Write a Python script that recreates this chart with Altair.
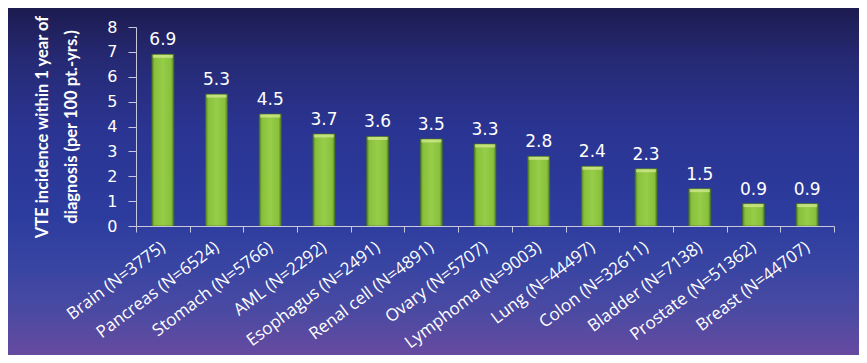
import altair as alt
import pandas as pd

cancers = ["Brain (N=3775)", "Pancreas (N=6524)", "Stomach (N=5766)", "AML (N=2292)",
           "Esophagus (N=2491)", "Renal cell (N=4891)", "Ovary (N=5707)",
           "Lymphoma (N=9003)", "Lung (N=44497)", "Colon (N=32611)",
           "Bladder (N=7138)", "Prostate (N=51362)", "Breast (N=44707)"]
incidence = [6.9, 5.3, 4.5, 3.7, 3.6, 3.5, 3.3, 2.8, 2.4, 2.3, 1.5, 0.9, 0.9]
y_ticks = [0, 1, 2, 3, 4, 5, 6, 7, 8]
y_title = ["VTE incidence within 1 year of", "diagnosis (per 100 pt.-yrs.)"]

df = pd.DataFrame({"cancer": cancers, "vte": incidence})

W, H = 698, 199
PL, PT, PR, PB = 128, 19, 25, 129

bg_grad = alt.LinearGradient(
    gradient="linear", x1=0, x2=0, y1=0, y2=1,
    stops=[
        alt.GradientStop(offset=0.0, color="#1c1b50"),
        alt.GradientStop(offset=0.15, color="#262a74"),
        alt.GradientStop(offset=0.35, color="#2a3492"),
        alt.GradientStop(offset=0.6, color="#2c3c9e"),
        alt.GradientStop(offset=0.75, color="#3945a2"),
        alt.GradientStop(offset=0.88, color="#4c4aa2"),
        alt.GradientStop(offset=1.0, color="#664aa0"),
    ],
)

bar_grad = alt.LinearGradient(
    gradient="linear", x1=0, x2=1, y1=0, y2=0,
    stops=[
        alt.GradientStop(offset=0.0, color="#4f7a22"),
        alt.GradientStop(offset=0.12, color="#88c03c"),
        alt.GradientStop(offset=0.5, color="#97cd48"),
        alt.GradientStop(offset=0.88, color="#88c03c"),
        alt.GradientStop(offset=1.0, color="#4f7a22"),
    ],
)

bg = alt.Chart(alt.Data(values=[{"bg": 1}])).mark_rect(color=bg_grad).encode(
    x=alt.value(-PL), x2=alt.value(W + PR), y=alt.value(-PT), y2=alt.value(H + PB)
)

x_enc = alt.X(
    "cancer:N", sort=cancers,
    scale=alt.Scale(paddingInner=0, paddingOuter=0),
    axis=alt.Axis(
        title=None, labelAngle=323, labelAlign="right", labelBaseline="middle",
        labelFont="Open Sans", labelFontSize=17, labelColor="white",
        labelPadding=13, tickSize=6, tickBand="extent", labelOverlap=False,
        domainColor="#c8c8dc", tickColor="#c8c8dc", zindex=1, labelLimit=300,
    ),
)
y_enc = alt.Y(
    "vte:Q",
    scale=alt.Scale(domain=[0, 8], nice=False),
    axis=alt.Axis(
        title=y_title, values=y_ticks, grid=False, labelOverlap=False,
        titleFont="Lato", titleFontSize=16.5, titleFontWeight="bold", titleColor="white",
        titleLineHeight=29, titlePadding=27,
        labelFont="DejaVu Sans", labelFontSize=16, labelColor="white",
        labelPadding=11, tickSize=8,
        domainColor="#c8c8dc", tickColor="#c8c8dc", zindex=1,
    ),
)

base = alt.Chart(df)
bars = base.mark_bar(size=22, color=bar_grad, stroke="#4a7020", strokeWidth=0.6).encode(
    x=x_enc, y=y_enc
)
highlight = base.mark_tick(color="#d8eb94", thickness=3, size=20, orient="horizontal",
                           yOffset=2).encode(x=x_enc, y=y_enc)
labels = base.mark_text(dy=-9, baseline="alphabetic", font="DejaVu Sans", fontSize=17,
                        color="white").encode(
    x=x_enc, y=y_enc, text=alt.Text("vte:Q", format=".1f")
)

chart = alt.layer(bg, bars, highlight, labels).properties(
    width=W, height=H,
    autosize=alt.AutoSizeParams(type="none"),
    padding={"left": PL, "top": PT, "right": PR, "bottom": PB},
    background="white",
).configure_view(stroke=None)

chart.save("out.html", embed_options={"renderer": "svg", "actions": False})
